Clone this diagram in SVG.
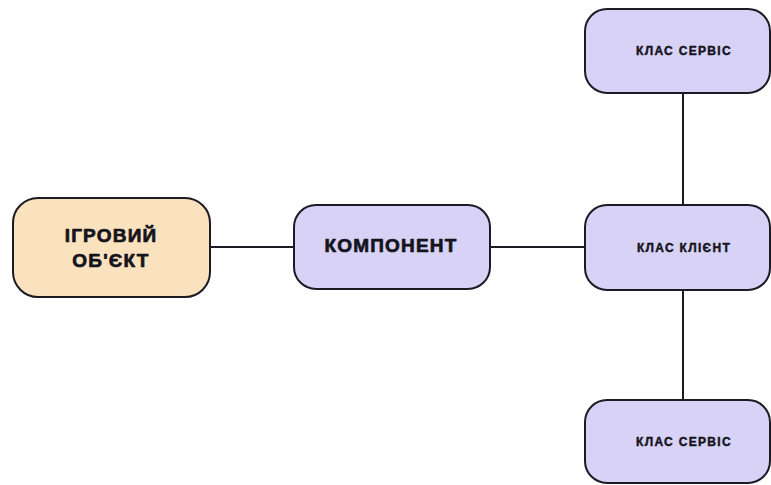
<svg xmlns="http://www.w3.org/2000/svg" width="771" height="485" viewBox="0 0 771 485">
  <style>
    .box { stroke: #1c1b24; stroke-width: 2; }
    .obj { fill: #FBE2BF; }
    .cls { fill: #D7D2F6; }
    .lbl { font-family: "Liberation Sans", "DejaVu Sans", sans-serif; font-weight: 900; fill: #15141c; stroke: #15141c; stroke-linejoin: round; text-anchor: middle; }
    .big { font-size: 19px; letter-spacing: 1.2px; stroke-width: 0.7; }
    .small { font-size: 12px; letter-spacing: 1.3px; stroke-width: 0.45; }
    .link { stroke: #1c1b24; stroke-width: 2; fill: none; }
  </style>
  <rect width="771" height="485" fill="#ffffff"/>

  <g id="connectors">
    <line class="link" x1="210" y1="247" x2="294" y2="247"/>
    <line class="link" x1="490" y1="247" x2="585" y2="247"/>
    <line class="link" x1="683" y1="93" x2="683" y2="205"/>
    <line class="link" x1="683" y1="290" x2="683" y2="400"/>
  </g>

  <g id="game-object">
    <rect class="box obj" x="13" y="198" width="197" height="99" rx="25"/>
    <text class="lbl big" x="111" y="242">ІГРОВИЙ</text>
    <text class="lbl big" x="111" y="267">ОБ'ЄКТ</text>
  </g>

  <g id="component">
    <rect class="box cls" x="294" y="205" width="196" height="84" rx="22"/>
    <text class="lbl big" x="391" y="252">КОМПОНЕНТ</text>
  </g>

  <g id="service-top">
    <rect class="box cls" x="585" y="9" width="185" height="84" rx="22"/>
    <text class="lbl small" x="684" y="55">КЛАС СЕРВІС</text>
  </g>

  <g id="client">
    <rect class="box cls" x="585" y="205" width="185" height="85" rx="22"/>
    <text class="lbl small" x="684" y="252">КЛАС КЛІЄНТ</text>
  </g>

  <g id="service-bottom">
    <rect class="box cls" x="585" y="400" width="185" height="83" rx="22"/>
    <text class="lbl small" x="684" y="446">КЛАС СЕРВІС</text>
  </g>
</svg>
